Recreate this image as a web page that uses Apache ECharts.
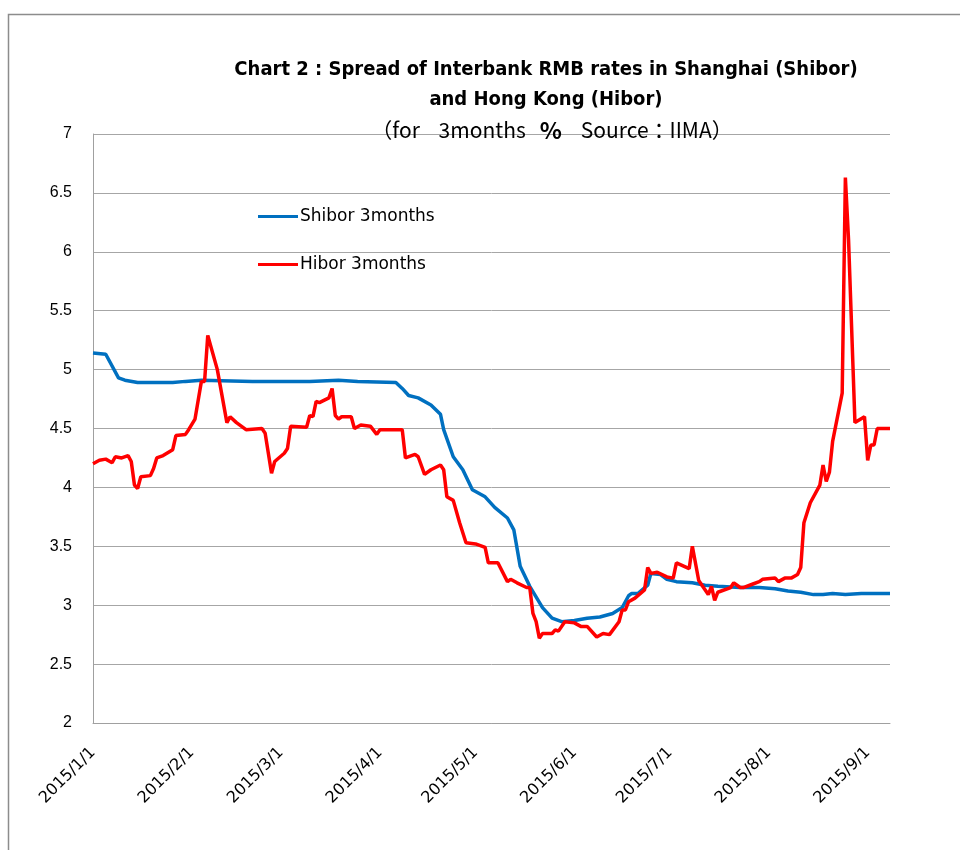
<!DOCTYPE html>
<html>
<head>
<meta charset="utf-8">
<title>Shibor vs Hibor</title>
<script src="https://cdn.jsdelivr.net/npm/echarts@6/dist/echarts.min.js"></script>
<style>
  html, body { margin: 0; padding: 0; background: #fff; }
  #chart { width: 960px; height: 850px; }
</style>
</head>
<body>
<div id="chart"></div>
<script>
// values (3 month rates, %)
const shiborDates = ['2015-01-01','2015-01-05','2015-01-09','2015-01-11','2015-01-15','2015-01-26','2015-01-30','2015-02-04',
  '2015-02-20','2015-03-10','2015-03-19','2015-03-25','2015-04-06','2015-04-08','2015-04-10','2015-04-13','2015-04-17',
  '2015-04-20','2015-04-21','2015-04-24','2015-04-27','2015-04-30','2015-05-04','2015-05-07','2015-05-11','2015-05-13',
  '2015-05-15','2015-05-18','2015-05-22','2015-05-25','2015-05-28','2015-06-01','2015-06-05','2015-06-09','2015-06-13',
  '2015-06-16','2015-06-18','2015-06-19','2015-06-21','2015-06-24','2015-06-25','2015-06-28','2015-06-30','2015-07-03',
  '2015-07-08','2015-07-12','2015-07-16','2015-07-23','2015-07-29','2015-08-03','2015-08-07','2015-08-11','2015-08-15',
  '2015-08-18','2015-08-21','2015-08-25','2015-08-30','2015-09-08'];
const shiborValues = [5.14, 5.13, 4.93, 4.91, 4.89, 4.89, 4.90, 4.91,
  4.90, 4.90, 4.91, 4.90, 4.89, 4.84, 4.78, 4.76, 4.70,
  4.62, 4.49, 4.26, 4.15, 3.98, 3.92, 3.83, 3.74, 3.64,
  3.33, 3.16, 2.98, 2.89, 2.86, 2.87, 2.89, 2.90, 2.93,
  2.98, 3.08, 3.10, 3.10, 3.17, 3.27, 3.26, 3.22, 3.20,
  3.19, 3.17, 3.16, 3.15, 3.15, 3.14, 3.12, 3.11, 3.09,
  3.09, 3.10, 3.09, 3.10, 3.10];

const hiborDates = ['2015-01-01','2015-01-03','2015-01-05','2015-01-07','2015-01-08','2015-01-10','2015-01-12','2015-01-13',
  '2015-01-14','2015-01-15','2015-01-16','2015-01-19','2015-01-20','2015-01-21','2015-01-23','2015-01-26','2015-01-27',
  '2015-01-30','2015-01-31','2015-02-02','2015-02-04','2015-02-05','2015-02-06','2015-02-09','2015-02-12','2015-02-13',
  '2015-02-15','2015-02-18','2015-02-23','2015-02-24','2015-02-26','2015-02-27','2015-03-02','2015-03-03','2015-03-04',
  '2015-03-09','2015-03-10','2015-03-11','2015-03-12','2015-03-13','2015-03-16','2015-03-17','2015-03-18','2015-03-19',
  '2015-03-20','2015-03-23','2015-03-24','2015-03-26','2015-03-29','2015-03-31','2015-04-01','2015-04-08','2015-04-09',
  '2015-04-12','2015-04-13','2015-04-15','2015-04-17','2015-04-20','2015-04-21','2015-04-22','2015-04-24','2015-04-26',
  '2015-04-28','2015-05-01','2015-05-04','2015-05-05','2015-05-08','2015-05-11','2015-05-12','2015-05-14','2015-05-17',
  '2015-05-18','2015-05-19','2015-05-20','2015-05-21','2015-05-22','2015-05-25','2015-05-26','2015-05-27','2015-05-29',
  '2015-06-01','2015-06-03','2015-06-05','2015-06-08','2015-06-10','2015-06-12','2015-06-15','2015-06-16','2015-06-17',
  '2015-06-18','2015-06-20','2015-06-23','2015-06-24','2015-06-25','2015-06-27','2015-06-30','2015-07-02','2015-07-03',
  '2015-07-07','2015-07-08','2015-07-10','2015-07-13','2015-07-14','2015-07-15','2015-07-16','2015-07-20','2015-07-21',
  '2015-07-23','2015-07-24','2015-07-27','2015-07-29','2015-07-30','2015-08-03','2015-08-04','2015-08-06','2015-08-08',
  '2015-08-10','2015-08-11','2015-08-12','2015-08-14','2015-08-17','2015-08-18','2015-08-19','2015-08-20','2015-08-21',
  '2015-08-24','2015-08-25','2015-08-26','2015-08-28','2015-08-31','2015-09-01','2015-09-02','2015-09-03','2015-09-04',
  '2015-09-08'];
const hiborValues = [4.20, 4.23, 4.24, 4.21, 4.26, 4.25, 4.27, 4.22,
  4.02, 3.99, 4.09, 4.10, 4.16, 4.25, 4.27, 4.32, 4.44,
  4.45, 4.49, 4.58, 4.90, 4.90, 5.29, 5.00, 4.55, 4.60,
  4.55, 4.49, 4.50, 4.46, 4.12, 4.22, 4.29, 4.33, 4.52,
  4.51, 4.61, 4.60, 4.73, 4.72, 4.76, 4.84, 4.61, 4.58,
  4.60, 4.60, 4.50, 4.53, 4.52, 4.45, 4.49, 4.49, 4.25,
  4.28, 4.26, 4.11, 4.15, 4.19, 4.15, 3.92, 3.89, 3.70,
  3.53, 3.52, 3.49, 3.36, 3.36, 3.20, 3.22, 3.19, 3.15,
  3.15, 2.93, 2.86, 2.72, 2.76, 2.76, 2.79, 2.78, 2.86,
  2.85, 2.82, 2.82, 2.73, 2.76, 2.75, 2.86, 2.96, 2.96,
  3.03, 3.06, 3.13, 3.32, 3.27, 3.28, 3.24, 3.23, 3.36,
  3.31, 3.50, 3.21, 3.09, 3.16, 3.04, 3.11, 3.15, 3.19,
  3.15, 3.15, 3.18, 3.20, 3.22, 3.23, 3.20, 3.23, 3.23,
  3.26, 3.32, 3.70, 3.87, 4.02, 4.19, 4.05, 4.13, 4.39,
  4.80, 6.63, 6.10, 4.55, 4.60, 4.23, 4.36, 4.36, 4.50,
  4.50];

const monthTicks = ['2015-01-01','2015-02-01','2015-03-01','2015-04-01','2015-05-01',
  '2015-06-01','2015-07-01','2015-08-01','2015-09-01'];
const yTicks = [2, 2.5, 3, 3.5, 4, 4.5, 5, 5.5, 6, 6.5, 7];

const ts = s => new Date(s + 'T00:00:00Z').getTime();
const pairs = (d, v) => d.map((s, i) => [ts(s), v[i]]);

const chart = echarts.init(document.getElementById('chart'), null, { renderer: 'canvas' });
const labelFont = "'Liberation Sans', Arial, sans-serif";
const wideFont = "'DejaVu Sans', sans-serif";
const cjkFont = "'Noto Sans CJK JP', sans-serif";

chart.setOption({
  backgroundColor: '#ffffff',
  animation: false,
  title: [
    {
      text: 'Chart 2 : Spread of Interbank RMB rates in Shanghai (Shibor)\nand Hong Kong (Hibor)',
      left: 541, top: 50, textAlign: 'center',
      textStyle: {
        fontFamily: "'DejaVu Sans Condensed', sans-serif",
        fontSize: 20, fontWeight: 'bold', color: '#000', lineHeight: 30
      }
    },
    {
      text: '{n|（for    3months   }{b|%}{n|    Source：IIMA）}',
      left: 547, top: 114, textAlign: 'center',
      textStyle: {
        fontWeight: 'normal',
        rich: {
          n: { fontFamily: cjkFont, fontSize: 21, fontWeight: 'normal', color: '#000' },
          b: { fontFamily: cjkFont, fontSize: 23, fontWeight: 'bold', color: '#000' }
        }
      }
    }
  ],
  legend: {
    orient: 'vertical',
    left: 253, top: 203,
    icon: 'rect',
    itemWidth: 40, itemHeight: 3, itemGap: 31,
    textStyle: { fontFamily: wideFont, fontSize: 17, color: '#000', padding: [0, 0, 0, -3] },
    data: ['Shibor 3months', 'Hibor 3months']
  },
  grid: { left: 93, right: 70, top: 134, bottom: 127 },
  xAxis: {
    // dates kept as timestamps on a plain value axis, labels only at month starts
    type: 'value',
    min: ts('2015-01-01'),
    max: ts('2015-09-08'),
    axisLine: { show: true, lineStyle: { color: '#a0a0a0', width: 1 } },
    axisTick: { show: false },
    splitLine: { show: false },
    axisLabel: {
      customValues: monthTicks.map(ts),
      rotate: 45,
      margin: 27,
      fontFamily: wideFont, fontSize: 16, color: '#000',
      formatter: v => {
        const d = new Date(v);
        return d.getUTCFullYear() + '/' + (d.getUTCMonth() + 1) + '/' + d.getUTCDate();
      }
    }
  },
  yAxis: {
    type: 'value',
    min: 2, max: 7, interval: 0.5,
    axisLine: { show: true, lineStyle: { color: '#a0a0a0', width: 1 } },
    axisTick: { show: false },
    splitLine: { lineStyle: { color: '#a6a6a6', width: 1 } },
    axisLabel: {
      customValues: yTicks,
      margin: 21, fontFamily: labelFont, fontSize: 16, color: '#000'
    }
  },
  series: [
    {
      name: 'Shibor 3months', type: 'line', symbol: 'none',
      lineStyle: { color: '#0070C0', width: 3.5 }, itemStyle: { color: '#0070C0' },
      data: pairs(shiborDates, shiborValues)
    },
    {
      name: 'Hibor 3months', type: 'line', symbol: 'none',
      lineStyle: { color: '#FF0000', width: 3.5 }, itemStyle: { color: '#FF0000' },
      data: pairs(hiborDates, hiborValues)
    }
  ],
  graphic: [
    {
      type: 'rect', silent: true,
      shape: { x: 8.5, y: 14.5, width: 1000, height: 1000 },
      style: { fill: 'none', stroke: '#8c8c8c', lineWidth: 1.5 }
    }
  ]
});
</script>
</body>
</html>
